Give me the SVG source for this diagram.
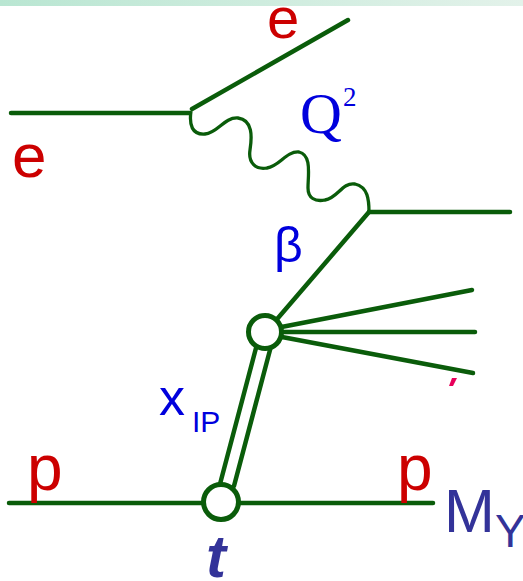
<svg xmlns="http://www.w3.org/2000/svg" width="523" height="581" viewBox="0 0 523 581">
<defs>
<linearGradient id="band" x1="0" y1="0" x2="1" y2="0">
<stop offset="0" stop-color="#b9e6d2"/>
<stop offset="1" stop-color="#e3f2ea"/>
</linearGradient>
</defs>
<style>
.ln{stroke:#0a5c0a;stroke-width:4.5;fill:none;stroke-linecap:round}
.wv{stroke:#0a5c0a;stroke-width:3.3;fill:none}
.bl{stroke:#0a5c0a;stroke-width:5;fill:#fff}
.red{fill:#cc0000;font-family:"Liberation Sans",Arial,sans-serif}
.blue{fill:#0000dd;font-family:"Liberation Sans",Arial,sans-serif}
.navy{fill:#333399;font-family:"Liberation Sans",Arial,sans-serif}
</style>
<rect x="0" y="0" width="523" height="6" fill="url(#band)"/>
<g id="connectors">
<line class="ln" x1="11" y1="113" x2="189" y2="113"/>
<line class="ln" x1="192" y1="109" x2="348" y2="20"/>
<path class="wv" d="M191,111 C189,125 192,135 205,134 C218,133 224,117 238,118 C253,120 252,137 250,150 C248,163 256,170 267,168 C280,166 286,151 299,152 C312,155 308,175 308,188 C308,198 315,202 325,200 C338,198 342,182 355,184 C368,187 369,200 369,212"/>
<line class="ln" x1="369" y1="212" x2="510" y2="212"/>
<line class="ln" x1="369" y1="212" x2="266" y2="332"/>
<line class="ln" x1="266" y1="330" x2="472" y2="290"/>
<line class="ln" x1="266" y1="332" x2="475" y2="332"/>
<line class="ln" x1="266" y1="334" x2="473" y2="373"/>
<line class="ln" x1="256" y1="348" x2="220" y2="484"/>
<line class="ln" x1="270" y1="350" x2="234" y2="486"/>
<line class="ln" x1="9" y1="503" x2="433" y2="503"/>
</g>
<g id="node-upper-blob"><circle class="bl" cx="265" cy="332" r="16.5"/></g>
<g id="node-lower-blob"><circle class="bl" cx="221" cy="502" r="17.5"/></g>
<polygon points="452,378 457,378 453,386 449,386" fill="#e8005a"/>
<g id="labels">
<text class="red" x="267" y="38" font-size="58">e</text>
<text class="red" x="12" y="177" font-size="62">e</text>
<text x="300" y="133" font-size="58" fill="#0000dd" font-family="Liberation Serif,Times New Roman,serif">Q</text>
<text x="343" y="106" font-size="27" fill="#0000dd" font-family="Liberation Serif,Times New Roman,serif">2</text>
<text class="blue" x="274" y="262" font-size="50">β</text>
<text class="blue" x="159" y="415" font-size="52">x</text>
<text class="blue" x="192" y="432" font-size="30">IP</text>
<text class="red" x="27" y="490" font-size="64">p</text>
<text class="red" x="397" y="490" font-size="64">p</text>
<text class="navy" x="444" y="532" font-size="61">M</text>
<text class="navy" x="495" y="547" font-size="46">Y</text>
<text class="navy" x="206" y="577" font-size="60" font-style="italic" font-weight="600">t</text>
</g>
</svg>
